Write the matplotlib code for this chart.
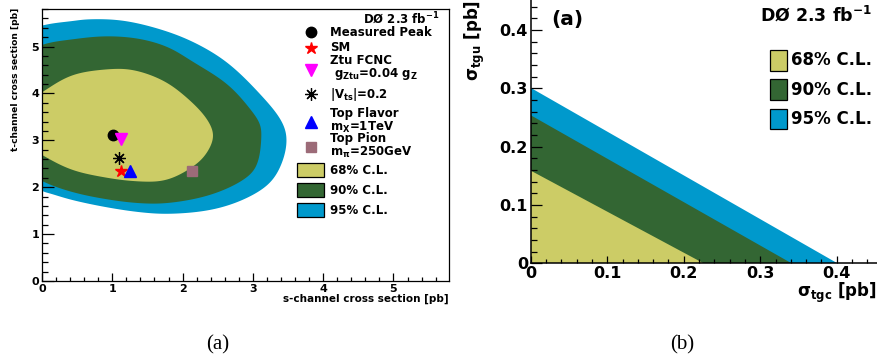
import numpy as np
import matplotlib
matplotlib.use("Agg")
import matplotlib.pyplot as plt
from matplotlib.patches import Rectangle
from matplotlib.ticker import MultipleLocator, FixedLocator, FixedFormatter

plt.rcParams['font.family'] = ['DejaVu Sans']
plt.rcParams['font.weight'] = 'bold'
plt.rcParams['axes.labelweight'] = 'bold'
plt.rcParams['mathtext.fontset'] = 'dejavusans'
plt.rcParams['mathtext.default'] = 'bf'

# ---------------- data ----------------
cl_labels = ['68% C.L.', '90% C.L.', '95% C.L.']
cl_colors = ['#CCCC66', '#336633', '#0099CC']

# (a) contour outlines in the s-t plane, clockwise
c68_s = [0.00, 0.42, 0.89, 1.27, 1.72, 2.06, 2.34, 2.44, 2.34, 2.15, 1.75, 1.30, 0.89, 0.42, 0.00, -0.30, -0.30]
c68_t = [4.02, 4.39, 4.51, 4.51, 4.28, 3.91, 3.47, 3.10, 2.72, 2.44, 2.14, 2.13, 2.21, 2.37, 2.69, 3.00, 3.70]
c90_s = [0.00, 0.42, 0.89, 1.37, 1.79, 2.15, 2.63, 2.96, 3.10, 3.12, 3.05, 2.86, 2.39, 1.79, 1.37, 0.89, 0.42, 0.00, -0.35, -0.35]
c90_t = [5.04, 5.15, 5.22, 5.17, 4.99, 4.67, 4.21, 3.67, 3.35, 3.05, 2.44, 2.15, 1.83, 1.66, 1.66, 1.75, 1.90, 2.13, 2.50, 4.70]
c95_s = [0.00, 0.42, 0.65, 1.13, 1.68, 2.15, 2.63, 3.10, 3.39, 3.48, 3.43, 3.24, 2.86, 2.39, 1.79, 1.37, 0.89, 0.42, 0.13, 0.00, -0.35, -0.35]
c95_t = [5.45, 5.54, 5.58, 5.56, 5.37, 5.10, 4.67, 3.99, 3.46, 3.08, 2.58, 2.08, 1.73, 1.51, 1.43, 1.47, 1.58, 1.73, 1.86, 1.92, 2.30, 5.20]

model_names = ['Measured Peak', 'SM', 'Ztu FCNC\n g$_{Ztu}$=0.04 g$_{Z}$', '|V$_{ts}$|=0.2',
               'Top Flavor\nm$_{X}$=1TeV', 'Top Pion\nm$_{\\pi}$=250GeV']
model_s = [1.01, 1.12, 1.12, 1.10, 1.25, 2.13]
model_t = [3.12, 2.35, 3.03, 2.63, 2.34, 2.34]

s_ticks = [0, 1, 2, 3, 4, 5]
t_ticks = [0, 1, 2, 3, 4, 5]

# (b) limits: intercepts of each C.L. region
tgc_limits = [0.226, 0.341, 0.401]
tgu_limits = [0.159, 0.254, 0.301]
b_ticks = [0.0, 0.1, 0.2, 0.3, 0.4]
b_ticklabels = ['0', '0.1', '0.2', '0.3', '0.4']

# ---------------- helpers ----------------
def smooth_closed(xs, ys, n=24, alpha=0.5, sigma=6):
    P = np.column_stack([xs, ys]).astype(float)
    N = len(P)
    out = []
    for i in range(N):
        p0, p1, p2, p3 = P[(i - 1) % N], P[i], P[(i + 1) % N], P[(i + 2) % N]
        t0 = 0.0
        t1 = t0 + np.linalg.norm(p1 - p0) ** alpha + 1e-9
        t2 = t1 + np.linalg.norm(p2 - p1) ** alpha + 1e-9
        t3 = t2 + np.linalg.norm(p3 - p2) ** alpha + 1e-9
        t = np.linspace(t1, t2, n, endpoint=False)[:, None]
        A1 = (t1 - t) / (t1 - t0) * p0 + (t - t0) / (t1 - t0) * p1
        A2 = (t2 - t) / (t2 - t1) * p1 + (t - t1) / (t2 - t1) * p2
        A3 = (t3 - t) / (t3 - t2) * p2 + (t - t2) / (t3 - t2) * p3
        B1 = (t2 - t) / (t2 - t0) * A1 + (t - t0) / (t2 - t0) * A2
        B2 = (t3 - t) / (t3 - t1) * A2 + (t - t1) / (t3 - t1) * A3
        C = (t2 - t) / (t2 - t1) * B1 + (t - t1) / (t2 - t1) * B2
        out.append(C)
    out = np.vstack(out)
    # light circular smoothing to remove kinks
    k = np.arange(-3 * sigma, 3 * sigma + 1)
    w = np.exp(-0.5 * (k / sigma) ** 2)
    w /= w.sum()
    res = np.zeros_like(out)
    for kk, ww in zip(k, w):
        res += ww * np.roll(out, kk, axis=0)
    return res[:, 0], res[:, 1]

W, H = 877, 362
fig = plt.figure(figsize=(W / 100, H / 100), dpi=100)

# ---------------- panel (a) ----------------
ax1 = fig.add_axes([42 / W, 81 / H, 407 / W, 272 / H])
ax1.set_xlim(0, 5.79)
ax1.set_ylim(0, 5.80)

for (cs, ct), col in zip([(c95_s, c95_t), (c90_s, c90_t), (c68_s, c68_t)], cl_colors[::-1]):
    sx, sy = smooth_closed(cs, ct)
    ax1.fill(sx, sy, color=col, lw=0, zorder=1)

mstyles = [dict(marker='o', color='black', ms=7.5),
           dict(marker='*', color='red', ms=9),
           dict(marker='v', color='#FF00FF', ms=8),
           dict(marker=(8, 2, 0), color='black', ms=9, mew=0.9),
           dict(marker='^', color='#0000FF', ms=8),
           dict(marker='s', color='#9C6B78', ms=7)]
for s, t, st in zip(model_s, model_t, mstyles):
    ax1.plot([s], [t], ls='none', zorder=5, **st)

ax1.xaxis.set_major_locator(FixedLocator(s_ticks))
ax1.xaxis.set_major_formatter(FixedFormatter([str(v) for v in s_ticks]))
ax1.yaxis.set_major_locator(FixedLocator(t_ticks))
ax1.yaxis.set_major_formatter(FixedFormatter([str(v) for v in t_ticks]))
ax1.xaxis.set_minor_locator(MultipleLocator(0.2))
ax1.yaxis.set_minor_locator(MultipleLocator(0.2))
ax1.tick_params(axis='x', which='major', direction='in', length=5.8, width=0.9, pad=2, labelsize=8)
ax1.tick_params(axis='x', which='minor', direction='in', length=2.6, width=0.9)
ax1.tick_params(axis='y', which='major', direction='in', length=8.6, width=0.9, pad=2, labelsize=8)
ax1.tick_params(axis='y', which='minor', direction='in', length=4.3, width=0.9)
for sp in ax1.spines.values():
    sp.set_linewidth(0.9)
    sp.set_zorder(6)

ax1.set_xlabel('s-channel cross section [pb]', fontsize=7.5, fontweight='bold', ha='right', va='center')
ax1.xaxis.set_label_coords(1.0, -0.064)
ax1.set_ylabel('t-channel cross section [pb]', fontsize=6.6, fontweight='bold', ha='right', va='center')
ax1.yaxis.set_label_coords(-0.066, 1.004)

# legend of panel (a)
def fx(px):
    return (px - 42) / 407

def fy(py):
    return (281 - py) / 272

ax1.text(fx(440), fy(19), 'DØ 2.3 fb$^{-1}$', transform=ax1.transAxes, ha='right', va='center', fontsize=8.5)
mark_py = [32.3, 47.7, 70, 94.3, 122, 146.7]
text_py = [32.5, 47.7, 68, 94.3, 121, 146]
for name, st, mp, tp in zip(model_names, mstyles, mark_py, text_py):
    ax1.plot([fx(310.7)], [fy(mp)], ls='none', transform=ax1.transAxes, clip_on=False, zorder=7, **st)
    ax1.text(fx(330), fy(tp), name, transform=ax1.transAxes, ha='left', va='center',
             fontsize=8.5, linespacing=0.95, zorder=7)
box_py = [170, 190, 210]
for lab, col, bp in zip(cl_labels, cl_colors, box_py):
    ax1.add_patch(Rectangle((fx(297.3), fy(bp + 7)), fx(324) - fx(297.3), fy(bp - 7) - fy(bp + 7),
                            transform=ax1.transAxes, facecolor=col, edgecolor='black', lw=0.9, zorder=7))
    ax1.text(fx(330), fy(bp), lab, transform=ax1.transAxes, ha='left', va='center', fontsize=8.5, zorder=7)

# ---------------- panel (b) ----------------
ax2 = fig.add_axes([530.7 / W, (H - 263.3) / H, (W - 530.7) / W, 263.3 / H])
ax2.set_xlim(0, 346.3 / 765)
ax2.set_ylim(0, 263.3 / 583)
for xl, yl, col in zip(tgc_limits[::-1], tgu_limits[::-1], cl_colors[::-1]):
    ax2.fill([0, xl, 0], [0, 0, yl], color=col, lw=0, zorder=1)

ax2.xaxis.set_major_locator(FixedLocator(b_ticks))
ax2.xaxis.set_major_formatter(FixedFormatter(b_ticklabels))
ax2.yaxis.set_major_locator(FixedLocator(b_ticks))
ax2.yaxis.set_major_formatter(FixedFormatter(b_ticklabels))
ax2.xaxis.set_minor_locator(MultipleLocator(0.02))
ax2.yaxis.set_minor_locator(MultipleLocator(0.02))
ax2.tick_params(axis='x', which='major', direction='in', length=5.0, width=0.9, pad=2, labelsize=11.5)
ax2.tick_params(axis='x', which='minor', direction='in', length=2.9, width=0.9)
ax2.tick_params(axis='y', which='major', direction='in', length=7.9, width=0.9, pad=2, labelsize=11.5)
ax2.tick_params(axis='y', which='minor', direction='in', length=4.3, width=0.9)
ax2.spines['top'].set_visible(False)
ax2.spines['right'].set_visible(False)
for sp in ax2.spines.values():
    sp.set_linewidth(1.1)
    sp.set_zorder(6)

ax2.set_xlabel('$\\mathrm{\\sigma}_{tgc}$ [pb]', fontsize=12, fontweight='bold', ha='right', va='center')
ax2.xaxis.set_label_coords(1.0, -0.113)
ax2.set_ylabel('$\\mathrm{\\sigma}_{tgu}$ [pb]', fontsize=12, fontweight='bold', ha='right', va='center')
ax2.yaxis.set_label_coords(-0.161, 1.0)

def gx(px):
    return (px - 530.7) / 346.3

def gy(py):
    return (263.3 - py) / 263.3

ax2.text(gx(551), gy(19), '(a)', transform=ax2.transAxes, ha='left', va='center', fontsize=14.5)
ax2.text(gx(872), gy(15), 'DØ 2.3 fb$^{-1}$', transform=ax2.transAxes, ha='right', va='center', fontsize=12.5)
box2_py = [(50, 70.7), (79.3, 100), (109.3, 129.3)]
for lab, col, (t0, t1) in zip(cl_labels, cl_colors, box2_py):
    ax2.add_patch(Rectangle((gx(770), gy(t1)), gx(787.3) - gx(770), gy(t0) - gy(t1),
                            transform=ax2.transAxes, facecolor=col, edgecolor='black', lw=0.9, zorder=7))
    ax2.text(gx(791), gy((t0 + t1) / 2), lab, transform=ax2.transAxes, ha='left', va='center', fontsize=12, zorder=7)

# captions
fig.text(218 / W, 1 - 345 / H, '(a)', family='Liberation Serif', weight='normal', fontsize=15, ha='center', va='center')
fig.text(682 / W, 1 - 345 / H, '(b)', family='Liberation Serif', weight='normal', fontsize=15, ha='center', va='center')

fig.savefig('out.png', dpi=100, facecolor='white')
